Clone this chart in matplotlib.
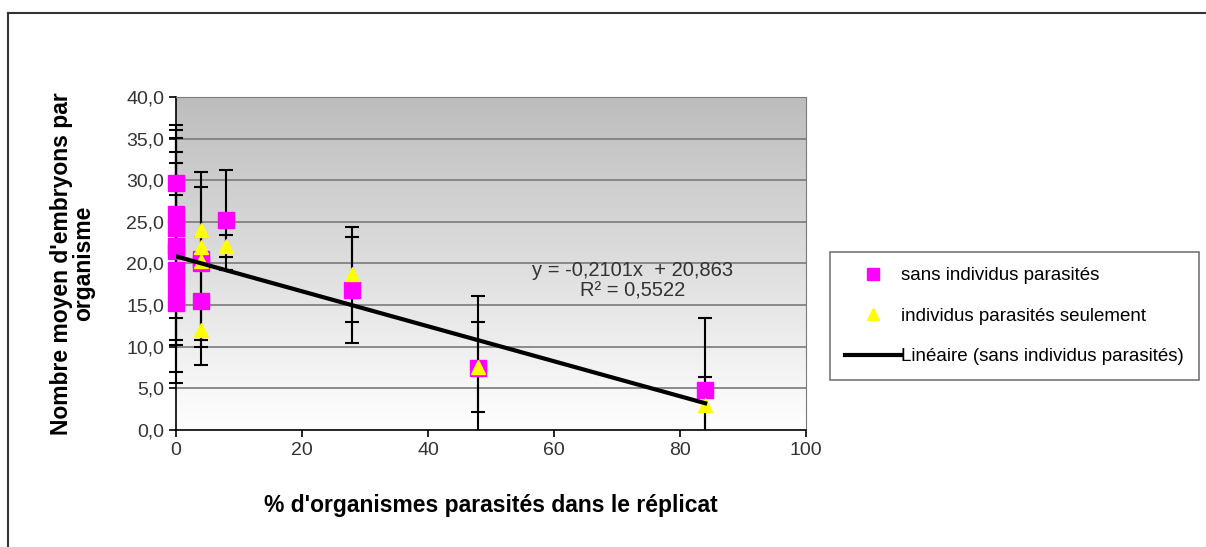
import numpy as np
import matplotlib.pyplot as plt
from matplotlib.lines import Line2D
from matplotlib.patches import Rectangle

plt.rcParams['font.family'] = ['Liberation Sans', 'DejaVu Sans']

# sans individus parasités (pink squares)
pink_x = [0, 0, 0, 0, 0, 0, 0, 0, 4, 4, 4, 8, 28, 48, 84]
pink_y = [29.7, 26.0, 24.3, 22.1, 21.5, 19.2, 17.3, 15.3, 20.5, 20.0, 15.5, 25.2, 16.8, 7.5, 4.8]
pink_err = [6.9, 6.1, 10.8, 11.3, 14.5, 9.0, 2.5, 9.7, 10.5, 9.2, 7.7, 6.0, 6.4, 8.6, 8.7]

# individus parasités seulement (yellow triangles)
yel_x = [4, 4, 4, 4, 8, 28, 48, 84]
yel_y = [24.0, 22.0, 20.3, 12.0, 22.1, 18.7, 7.6, 3.0]
yel_err = [0, 0, 0, 0, 1.3, 5.7, 5.4, 3.4]

# trend line (Excel linear fit on the pink series)
slope = -0.2101
intercept = 20.863
trend_x = [0, 84]

fig = plt.figure(figsize=(12.06, 5.47), dpi=100)
ax = fig.add_axes([0.1459, 0.2139, 0.5224, 0.6088])

# grey gradient background
grad = np.linspace(0.74, 1.0, 256).reshape(-1, 1)
ax.imshow(np.dstack([grad, grad, grad]), extent=[0, 100, 0, 40], aspect='auto',
          origin='upper', zorder=0)

for yv in range(5, 41, 5):
    ax.axhline(yv, color='#7a7a7a', lw=1.2, zorder=1)

px, py, pe = np.array(pink_x), np.array(pink_y), np.array(pink_err)
yx, yy, ye = np.array(yel_x), np.array(yel_y), np.array(yel_err)

# clip only at the bottom of the plot, not at x=0
clip = Rectangle((-10, 0), 120, 60, transform=ax.transData)


def clip_errorbar(cont):
    for art in cont.get_children():
        art.set_clip_on(True)
        art.set_clip_path(clip)


c1 = ax.errorbar(px, py, yerr=pe, fmt='none', ecolor='black', elinewidth=1.5,
                 capsize=5, capthick=1.5, zorder=2)
m = ye > 0
c2 = ax.errorbar(yx[m], yy[m], yerr=ye[m], fmt='none', ecolor='black', elinewidth=1.5,
                 capsize=5, capthick=1.5, zorder=2)
clip_errorbar(c1)
clip_errorbar(c2)

ax.plot(px, py, 's', color='#ff00ff', ms=11, mec='#ff00ff', zorder=3, clip_on=False)
ax.plot(yx, yy, '^', color='#ffff00', ms=10, mec='#ffff00', zorder=4, clip_on=False)

tx = np.array(trend_x)
ax.plot(tx, slope * tx + intercept, color='black', lw=3, zorder=5)

ax.text(72.5, 17.9, 'y = -0,2101x  + 20,863\nR² = 0,5522', ha='center', va='center',
        fontsize=14.5, color='#333333', linespacing=1.1, zorder=6)

ax.set_xlim(0, 100)
ax.set_ylim(0, 40)
ax.set_xticks(range(0, 101, 20))
ax.set_yticks(range(0, 41, 5))
ax.set_yticklabels([f'{v:.1f}'.replace('.', ',') for v in range(0, 41, 5)])
ax.tick_params(labelsize=14, labelcolor='#333333', length=5, width=1.2,
               direction='out', color='black')
for s in ['top', 'right']:
    ax.spines[s].set_color('#7a7a7a')
for s in ['left', 'bottom']:
    ax.spines[s].set_color('black')
    ax.spines[s].set_linewidth(1.2)

ax.set_xlabel("% d'organismes parasités dans le réplicat", fontsize=16.5,
              fontweight='bold', labelpad=25)
ax.set_ylabel("Nombre moyen d'embryons par\norganisme", fontsize=16.5,
              fontweight='bold', labelpad=22, linespacing=1.0)

handles = [
    Line2D([], [], marker='s', ls='none', color='#ff00ff', ms=8),
    Line2D([], [], marker='^', ls='none', color='#ffff00', ms=8),
    Line2D([], [], color='black', lw=3),
]
labels = ['sans individus parasités', 'individus parasités seulement',
          'Linéaire (sans individus parasités)']
leg = fig.legend(handles, labels, loc='upper left', bbox_to_anchor=(0.688, 0.539),
                 fontsize=13.5, frameon=True, fancybox=False, labelspacing=1.25,
                 handlelength=3, handletextpad=0.0, borderpad=0.8, borderaxespad=0)
leg.get_frame().set_edgecolor('#555555')
leg.get_frame().set_linewidth(1.2)

# outer chart frame (top and left edges visible)
fig.add_artist(Line2D([8 / 1206, 1.0], [1 - 13 / 547, 1 - 13 / 547], color='#333333', lw=1.5))
fig.add_artist(Line2D([8 / 1206, 8 / 1206], [0.0, 1 - 13 / 547], color='#333333', lw=1.5))

fig.savefig('out.png', dpi=100)
